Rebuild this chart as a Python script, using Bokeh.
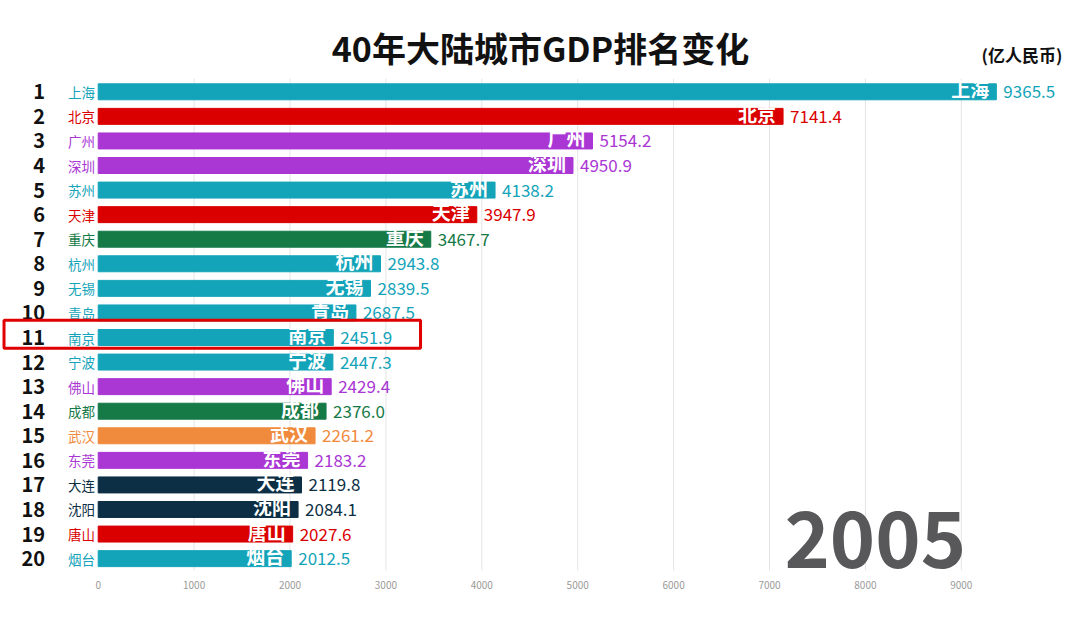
from bokeh.plotting import figure
from bokeh.models import Range1d, FixedTicker, ColumnDataSource
from bokeh.embed import file_html
from bokeh.resources import INLINE
from bokeh.core.properties import value

# ---------------- data ----------------
cities = ["上海", "北京", "广州", "深圳", "苏州", "天津", "重庆", "杭州", "无锡", "青岛",
          "南京", "宁波", "佛山", "成都", "武汉", "东莞", "大连", "沈阳", "唐山", "烟台"]
gdp = [9365.5, 7141.4, 5154.2, 4950.9, 4138.2, 3947.9, 3467.7, 2943.8, 2839.5, 2687.5,
       2451.9, 2447.3, 2429.4, 2376.0, 2261.2, 2183.2, 2119.8, 2084.1, 2027.6, 2012.5]
groups = ["teal", "red", "purple", "purple", "teal", "red", "green", "teal", "teal", "teal",
          "teal", "teal", "purple", "green", "orange", "purple", "navy", "navy", "red", "teal"]
ranks = list(range(1, 21))
ticks = [0, 1000, 2000, 3000, 4000, 5000, 6000, 7000, 8000, 9000]
title_text = "40年大陆城市GDP排名变化"
unit_text = "(亿人民币)"
year_text = "2005"
highlight_rank = 11

palette = {"teal": "#14A4B9", "red": "#DA0000", "purple": "#AA36D4",
           "green": "#167A47", "orange": "#F08A3C", "navy": "#0D2F45"}
colors = [palette[g] for g in groups]

FONT = value("Noto Sans CJK SC")

# ---------------- figure ----------------
W, H = 1064, 608
px_per_unit = 0.0959
zero_px = 97.7
x_start = -zero_px / px_per_unit
x_end = (W - zero_px) / px_per_unit

p = figure(width=W, height=H, x_range=Range1d(x_start, x_end),
           y_range=Range1d(20.605, -2.716), output_backend="svg",
           toolbar_location=None, y_axis_location=None,
           min_border_left=0, min_border_right=0, min_border_top=0,
           min_border_bottom=35)
p.outline_line_color = None
p.xgrid.visible = False
p.ygrid.visible = False
p.background_fill_color = "white"
p.border_fill_color = "white"

ax = p.xaxis[0]
ax.ticker = FixedTicker(ticks=ticks)
ax.axis_line_color = None
ax.major_tick_line_color = None
ax.minor_tick_line_color = None
ax.major_label_text_color = "#9a9a9a"
ax.major_label_text_font_size = "10px"
ax.major_label_text_font = "Noto Sans CJK SC"
ax.major_label_standoff = 1

# grid lines (limited vertical extent)
p.segment(x0=ticks[1:], x1=ticks[1:], y0=[0.46] * 9, y1=[20.48] * 9,
          line_color="#e4e4e4", line_width=1)

src = ColumnDataSource(dict(
    rank=ranks, city=cities, gdp=gdp, color=colors,
    label=[f"{v:.1f}" for v in gdp], rank_txt=[str(r) for r in ranks],
))

p.hbar(y="rank", left=0, right="gdp", height=0.65, color="color", source=src)

# white city names inside bar
p.text(x="gdp", y="rank", text="city", source=src, text_align="right",
       text_baseline="middle", x_offset=-7, y_offset=-3, text_color="white",
       text_font_size="19px", text_font_style="bold", text_font=FONT)

# value labels
p.text(x="gdp", y="rank", text="label", source=src, text_align="left",
       text_baseline="middle", x_offset=7, y_offset=0, text_color="color",
       text_font_size="17px", text_font=FONT)

# rank numbers
p.text(x=-555, y="rank", text="rank_txt", source=src, text_align="right",
       text_baseline="middle", text_color="#111111", text_font_size="20px",
       text_font_style="bold", text_font=FONT)

# city names at left
p.text(x=-33, y="rank", text="city", source=src, text_align="right",
       text_baseline="middle", text_color="color", text_font_size="13.5px",
       text_font=FONT)

# title, unit, year
p.text(x=[4612], y=[-0.80], text=[title_text], text_align="center",
       text_baseline="middle", text_color="#111111", text_font_size="34px",
       text_font_style="bold", text_font=FONT)
p.text(x=[10055], y=[-0.52], text=[unit_text], text_align="right",
       text_baseline="middle", text_color="#111111", text_font_size="17px",
       text_font_style="bold", text_font=FONT)
p.text(x=[9050], y=[19.22], text=[year_text], text_align="right",
       text_baseline="middle", text_color="#58585a", text_font_size="77px",
       text_font_style="bold", text_font=FONT)

# highlight box for rank 11
p.quad(left=[-982], right=[3361], top=[highlight_rank - 0.70],
       bottom=[highlight_rank + 0.44], fill_alpha=0, line_color="#E00000",
       line_width=3)

open("out.html", "w").write(file_html(p, INLINE))
